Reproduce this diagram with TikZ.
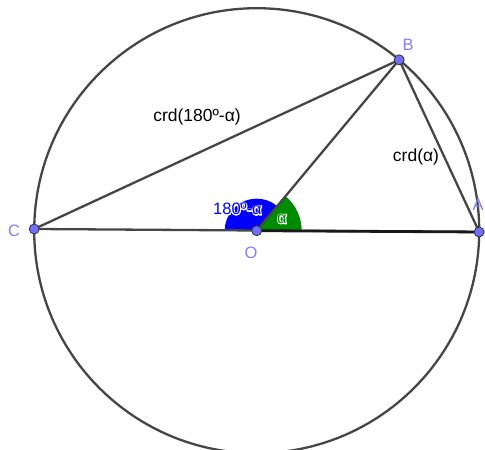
\documentclass[tikz,border=0pt]{standalone}
\usepackage{fontspec}
\setmainfont{Liberation Sans}
\usetikzlibrary{calc}
\definecolor{ptfill}{RGB}{110,110,255}
\definecolor{ptlab}{RGB}{128,128,255}
\definecolor{lin}{RGB}{70,70,70}
\definecolor{sgreen}{RGB}{0,140,0}
\newcommand{\halolayer}[1]{{\color{white}\special{pdf:literal direct 1 Tr 2 w 1 1 1 RG 1 j}#1\special{pdf:literal direct 0 Tr}}}
\begin{document}
\begin{tikzpicture}[x=1pt,y=1pt,
  seg/.style={draw=lin,line width=2.3pt},
  pt/.style={circle,fill=ptfill,draw=black!80,line width=0.8pt,inner sep=0pt,minimum size=10pt},
  plab/.style={text=ptlab,font=\fontsize{16.5}{16.5}\selectfont},
  alab/.style={font=\fontsize{16.5}{16.5}\selectfont},
  txt/.style={font=\fontsize{17.5}{17.5}\selectfont}]
\useasboundingbox (0,0) rectangle (485,450);
\coordinate (O) at (256.7,219.3);
\def\R{222.5}
\coordinate (A) at ($(O)+(-0.33:\R)$);
\coordinate (B) at ($(O)+(50.18:\R)$);
\coordinate (C) at ($(O)+(179.56:\R)$);
% circle
\draw[draw=lin,line width=2.3pt] (O) circle[radius=\R];
% sectors
\fill[blue] (O) -- ($(O)+(50.18:32)$) arc[start angle=50.18,end angle=179.56,radius=32] -- cycle;
\fill[sgreen] (O) -- ($(O)+(-0.33:45)$) arc[start angle=-0.33,end angle=50.18,radius=45] -- cycle;
% segments
\draw[seg] (C) -- (B);
\draw[seg] (B) -- (A);
\draw[seg] (O) -- (B);
\draw[seg] (C) -- (A);
\draw[draw=black!90,line width=2.8pt] (O) -- (A);
% chord labels
\node[txt] (l3) at (197,333) {crd(180º-α)};
\node[txt] (l4) at (416,293) {crd(α)};
% points
\node[pt] (pA) at (A) {};
\node[pt] (pB) at (B) {};
\node[pt] (pC) at (C) {};
\node[pt] (pO) at (O) {};
\node[plab] (lA) at (478,245) {A};
\node[plab] (lB) at (408,405) {B};
\node[plab] (lC) at (14,219) {C};
\node[plab] (lO) at (251,197) {O};
% angle labels with white halo
\node[alab] (h1) at (237.5,241) {\halolayer{180º-α}};
\node[alab] (h2) at (282,231) {\halolayer{α}};
\node[alab,text=blue] (l1) at (h1) {180º-α};
\node[alab,text=sgreen] (l2) at (h2) {α};
\end{tikzpicture}
\end{document}
